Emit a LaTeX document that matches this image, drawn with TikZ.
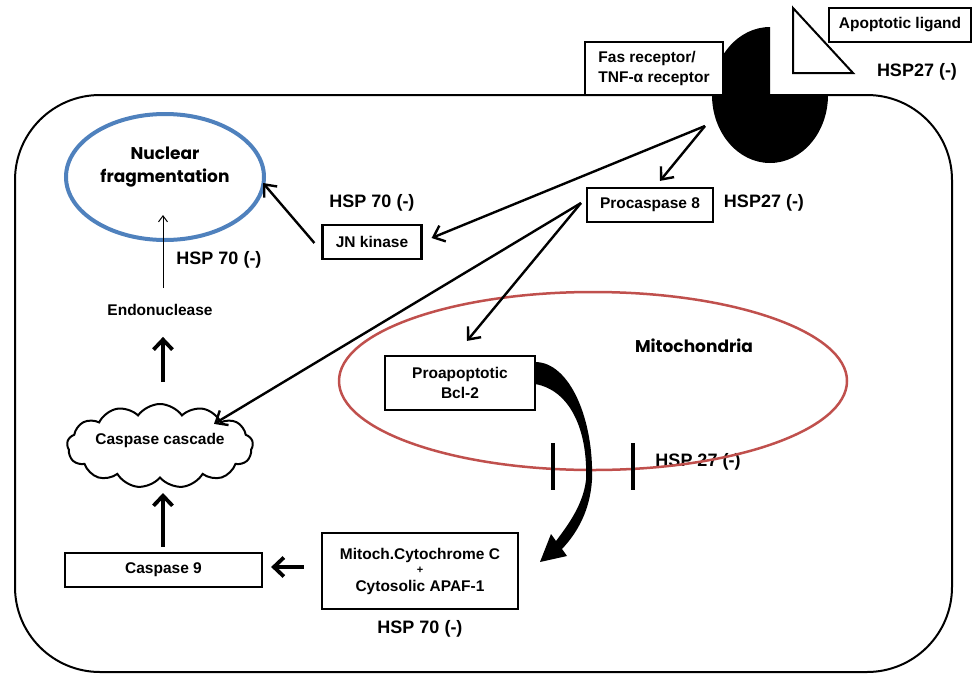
\documentclass[tikz,border=0pt]{standalone}
\usepackage{fontspec}
\setmainfont{Liberation Sans}
\newfontfamily\geo{Poppins}
\usetikzlibrary{arrows.meta,shapes.symbols,shapes.geometric}
\definecolor{nucblue}{RGB}{79,129,189}
\definecolor{mitored}{RGB}{192,80,77}
\tikzset{
  lbl/.style={font=\bfseries\fontsize{15.5}{20}\selectfont, align=center, inner sep=0pt},
  hsp/.style={font=\bfseries\fontsize{18}{20}\selectfont, inner sep=0pt},
  geotxt/.style={font=\geo\bfseries\fontsize{17}{23}\selectfont, align=center, inner sep=0pt},
  box/.style={draw, line width=2.2pt, fill=white, rectangle, lbl},
  arr/.style={line width=2.4pt, -{Straight Barb[length=10pt,width=17pt,line width=2.4pt]}},
  bigarr/.style={line width=3.8pt, -{Straight Barb[length=10pt,width=19pt,line width=3.8pt]}},
  thinarr/.style={line width=1pt, -{Straight Barb[length=6pt,width=9pt,line width=1pt]}}
}
\begin{document}
\begin{tikzpicture}[x=1pt,y=-1pt]
\useasboundingbox (0,0) rectangle (975,675);
\fill[white] (0,0) rectangle (975,675);

% cell outline
\draw[line width=2pt, rounded corners=85pt] (15,95) rectangle (952,672);

% receptor
\fill (770,95) -- (770,27) arc[start angle=90, end angle=360, x radius=58pt, y radius=68pt] -- cycle;
\node[box, align=left, minimum width=138pt, minimum height=53pt] (fas) at (654,68.5)
  {Fas receptor/\\TNF-α receptor};

% ligand
\draw[line width=2pt, fill=white, line join=miter] (793,8) -- (793,73) -- (853,73) -- cycle;
\node[box, minimum width=142pt, minimum height=34pt] (lig) at (900,25) {Apoptotic ligand};
\node[hsp] (h27a) at (917,72) {HSP27 (-)};

% nucleus
\node[draw=nucblue, line width=4pt, ellipse, minimum width=198pt, minimum height=126pt, inner sep=0pt] (nuc) at (165,177) {};
\node[geotxt] (nuctxt) at (165,167) {Nuclear\\fragmentation};

% mitochondria
\node[hsp] (h27m) at (698,462) {HSP 27 (-)};
\node[draw=mitored, line width=2.5pt, ellipse, minimum width=508pt, minimum height=178pt, inner sep=0pt] (mito) at (593,381) {};
\node[geotxt] (mitotxt) at (694,346) {Mitochondria};

% boxes
\node[box, minimum width=126pt, minimum height=34pt] (p8) at (650,205) {Procaspase 8};
\node[hsp] (h27b) at (764,203) {HSP27 (-)};
\node[box, minimum width=99pt, minimum height=34pt] (jnk) at (372,242) {JN kinase};
\node[hsp] (h70a) at (372,203) {HSP 70 (-)};
\node[box, minimum width=150pt, minimum height=54pt] (bcl) at (460,383) {Proapoptotic\\Bcl-2};
\node[box, minimum width=196pt, minimum height=76pt] (cyt) at (420,571)
  {Mitoch.Cytochrome C\\[-6pt]{\fontsize{11}{12}\selectfont +}\\[-2pt]Cytosolic APAF-1};
\node[hsp] (h70c) at (420,629) {HSP 70 (-)};
\node[box, minimum width=197pt, minimum height=34pt] (c9) at (163.5,570) {Caspase 9};
\node[cloud, draw, line width=2pt, cloud puffs=13, cloud puff arc=110, aspect=2.3, minimum width=186pt, minimum height=84pt, inner sep=0pt] (cloud) at (160,446) {};
\node[lbl] (cloudtxt) at (160,440) {Caspase cascade};
\node[lbl] (endo) at (160,310) {Endonuclease};
\node[hsp] (h70b) at (219,260) {HSP 70 (-)};

% connectors
\coordinate (recpt) at (705,126);
\coordinate (p8src) at (581,203);
\draw[arr] (recpt) -- ([xshift=10pt,yshift=6pt]p8.north);
\draw[arr] (recpt) -- ([xshift=9pt,yshift=4pt]jnk.east);
\draw[arr] (p8src) -- ([xshift=-6pt,yshift=-5pt]cloud.north east);
\draw[arr] (p8src) -- ([xshift=7pt,yshift=14pt]bcl.north);
\draw[arr] ([xshift=-7pt,yshift=-1pt]jnk.west) -- ([xshift=-3pt,yshift=-6pt]nuc.east);
\draw[thinarr] ([xshift=3pt,yshift=16pt]endo.north) -- ([xshift=-2pt,yshift=27pt]nuc.south);
\draw[bigarr] ([xshift=3pt,yshift=21pt]cloud.north) -- ([xshift=3pt,yshift=-21pt]endo.south);
\draw[bigarr] ([xshift=-0.5pt,yshift=5pt]c9.north) -- ([xshift=3pt,yshift=-14pt]cloud.south);
\draw[bigarr] ([xshift=-17pt,yshift=4pt]cyt.west) -- ([xshift=8pt,yshift=3pt]c9.east);

% inhibition bars
\draw[line width=4pt] (553,443) -- (553,490);
\draw[line width=4pt] (633,443) -- (633,490);

% thick curved arrow from Bcl-2 to cytochrome box
\fill (535,362) .. controls (570,362) and (594,420) .. (592,480)
  .. controls (590,510) and (578,532) .. (562,549)
  -- (567,556) -- (540,562) -- (551,534) -- (556,541)
  .. controls (568,525) and (583,505) .. (586,480)
  .. controls (588,430) and (570,390) .. (535,384) -- cycle;
\end{tikzpicture}
\end{document}
